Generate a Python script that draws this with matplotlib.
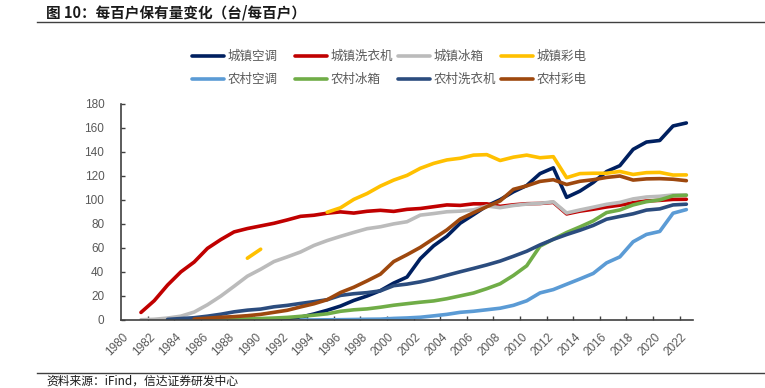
import numpy as np
import matplotlib
matplotlib.use("Agg")
import matplotlib.pyplot as plt
from matplotlib.lines import Line2D
from matplotlib.transforms import ScaledTranslation

plt.rcParams['font.family'] = ['Noto Sans CJK SC', 'DejaVu Sans']

# 每百户保有量（台），各序列起始年份不同
urban_ac_start = 1990
urban_ac = [0.34, 0.71, 1.19, 2.34, 5.0, 8.09, 11.61, 16.29, 20.01, 24.48,
            30.76, 35.79, 51.1, 61.79, 69.81, 80.67, 87.79, 95.08, 100.28, 106.84,
            112.07, 122.0, 126.81, 102.2, 107.4, 114.6, 123.7, 128.6, 142.2, 148.3,
            149.6, 161.7, 164.2]

urban_washer_start = 1981
urban_washer = [6.3, 16.1, 29.1, 40.1, 48.3, 59.7, 67.0, 73.4, 76.2, 78.4,
                80.6, 83.4, 86.4, 87.3, 89.0, 90.1, 89.1, 90.6, 91.4, 90.5,
                92.2, 92.9, 94.4, 95.9, 95.5, 96.8, 96.8, 94.7, 96.0, 96.9,
                97.1, 98.0, 88.4, 90.7, 92.3, 94.2, 95.7, 97.7, 99.2, 99.7,
                100.5, 100.6]

urban_fridge_start = 1981
urban_fridge = [0.2, 0.6, 1.6, 3.2, 6.6, 12.7, 19.9, 28.1, 36.5, 42.3,
                48.7, 52.6, 56.7, 62.1, 66.2, 69.7, 73.0, 76.1, 77.7, 80.1,
                81.9, 87.4, 88.7, 90.2, 90.7, 91.8, 95.0, 93.6, 95.4, 96.6,
                97.2, 98.5, 89.2, 91.7, 94.0, 96.4, 98.0, 100.9, 102.5, 103.1,
                104.2, 104.1]

urban_tv_start = 1989
urban_tv = [51.5, 59.0, None, None, None, None, 89.8, 93.5, 100.5, 105.4,
            111.6, 116.6, 120.5, 126.4, 130.5, 133.4, 134.8, 137.4, 137.8, 132.9,
            135.7, 137.4, 135.2, 136.1, 118.6, 122.0, 122.3, 122.3, 123.8, 121.3,
            122.8, 123.0, 120.8, 120.9]

rural_ac_start = 1993
rural_ac = [0.05, 0.05, 0.18, 0.26, 0.43, 0.62, 0.73, 1.32, 1.7, 2.29,
            3.45, 4.7, 6.4, 7.28, 8.54, 9.82, 12.23, 16.0, 22.58, 25.36,
            29.8, 34.2, 38.8, 47.6, 52.6, 65.2, 71.3, 73.8, 89.0, 92.0]

rural_fridge_start = 1984
rural_fridge = [0.03, 0.06, 0.12, 0.26, 0.63, 0.9, 1.22, 1.64, 2.17, 3.05,
                4.0, 5.15, 7.27, 8.49, 9.25, 10.64, 12.31, 13.59, 14.83, 15.89,
                17.75, 20.1, 22.48, 26.12, 30.19, 37.11, 45.19, 61.54, 67.32, 72.9,
                77.6, 82.6, 89.5, 91.7, 95.9, 98.6, 100.1, 103.5, 104.0]

rural_washer_start = 1983
rural_washer = [0.5, 1.2, 1.9, 3.2, 4.8, 6.8, 8.2, 9.1, 11.0, 12.2,
                13.8, 15.3, 16.9, 20.5, 21.9, 22.8, 24.3, 28.6, 29.9, 31.8,
                34.3, 37.3, 40.2, 43.0, 45.9, 49.1, 53.1, 57.3, 62.6, 67.2,
                71.2, 74.8, 78.8, 84.0, 86.3, 88.5, 91.6, 92.6, 95.9, 96.5]

rural_tv_start = 1985
rural_tv = [0.8, 1.5, 2.3, 2.8, 3.6, 4.7, 6.4, 8.1, 10.9, 13.5,
            16.9, 22.9, 27.3, 32.6, 38.2, 48.7, 54.4, 60.5, 67.8, 75.1,
            84.1, 89.4, 94.4, 99.2, 108.9, 111.8, 115.5, 116.9, 112.9, 115.6,
            116.9, 118.8, 120.0, 116.6, 117.6, 117.8, 117.3, 116.1]

year_labels = list(range(1980, 2023, 2))

series = [
    ("城镇空调", urban_ac_start, urban_ac, "#002060"),
    ("城镇洗衣机", urban_washer_start, urban_washer, "#C00000"),
    ("城镇冰箱", urban_fridge_start, urban_fridge, "#BBBBBB"),
    ("城镇彩电", urban_tv_start, urban_tv, "#FFC000"),
    ("农村空调", rural_ac_start, rural_ac, "#5B9BD5"),
    ("农村冰箱", rural_fridge_start, rural_fridge, "#70AD47"),
    ("农村洗衣机", rural_washer_start, rural_washer, "#2B4C7E"),
    ("农村彩电", rural_tv_start, rural_tv, "#9E480E"),
]

W, H = 765, 388
fig = plt.figure(figsize=(W / 100, H / 100), dpi=100)
ax = fig.add_axes([121 / W, 1 - 320 / H, (693 - 121) / W, (320 - 104) / H])

lines = {}
for label, start, vals, color in series:
    y = np.array([np.nan if v is None else v for v in vals], dtype=float)
    x = np.arange(start, start + len(y))
    ln, = ax.plot(x, y, color=color, lw=2.6, label=label,
                  solid_capstyle="round", solid_joinstyle="round")
    lines[label] = ln

ax.set_xlim(1979.5, 2022.5)
ax.set_ylim(0, 180)
ax.set_yticks(range(0, 181, 20))

# 刻度线在类别边界，标签在类别中心
ax.set_xticks(np.arange(1981.5, 2022, 2))
ax.set_xticks(year_labels, minor=True)
ax.set_xticklabels([])
ax.set_xticklabels([str(y) for y in year_labels], minor=True, rotation=45,
                   ha="right", va="top", fontfamily="Liberation Sans",
                   fontsize=8.5, color="#595959")
ax.tick_params(axis="x", which="major", direction="in", length=3, width=1, color="#404040")
ax.tick_params(axis="x", which="minor", length=0, pad=8)
ax.tick_params(axis="y", direction="in", length=3, width=1, color="#404040",
               pad=12, labelsize=8.5, labelcolor="#595959")
for t in ax.get_yticklabels():
    t.set_fontfamily("Liberation Sans")
off = ScaledTranslation(3 / 100, 0, fig.dpi_scale_trans)
for t in ax.get_xticklabels(minor=True):
    t.set_transform(t.get_transform() + off)

for s in ["top", "right"]:
    ax.spines[s].set_visible(False)
for s in ["left", "bottom"]:
    ax.spines[s].set_color("#404040")
    ax.spines[s].set_linewidth(1.2)

# 图例：四列等宽
columns = [("城镇空调", "农村空调"), ("城镇洗衣机", "农村冰箱"),
           ("城镇冰箱", "农村洗衣机"), ("城镇彩电", "农村彩电")]
col_x = [192, 295, 398, 501]
for i, (a, b) in enumerate(columns):
    leg = fig.legend([lines[a], lines[b]], [a, b], loc="upper left",
                     bbox_to_anchor=(col_x[i] / W, 1 - 50 / H), frameon=False,
                     fontsize=9, handlelength=2.55, handletextpad=0.3,
                     labelspacing=0.8, borderpad=0, borderaxespad=0)
    for t in leg.get_texts():
        t.set_color("#595959")

fig.text(46 / W, 1 - 12 / H, "图 10：每百户保有量变化（台/每百户）", fontsize=10.5,
         fontweight="bold", va="center", ha="left", color="#1a1a1a")
fig.add_artist(Line2D([37 / W, 1], [1 - 21.5 / H] * 2, color="#404040", lw=1))
fig.add_artist(Line2D([37 / W, 1], [1 - 372.5 / H] * 2, color="#404040", lw=1))
fig.text(46 / W, 1 - 381 / H, "资料来源：iFind，信达证券研发中心", fontsize=8.5,
         va="center", ha="left", color="#1a1a1a")

fig.savefig("out.png", dpi=100)
